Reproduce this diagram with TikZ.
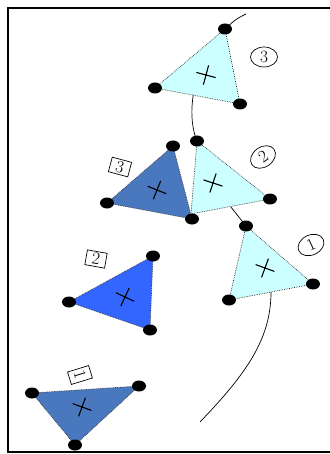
\documentclass[tikz,border=0pt]{standalone}
\usepackage{tikz}
\usetikzlibrary{calc,shapes.geometric,shapes.misc}
\definecolor{ice}{HTML}{CCFFFF}
\definecolor{steel}{HTML}{4A78BE}
\definecolor{brightblue}{HTML}{3366FF}
\definecolor{edgegray}{HTML}{333333}
\tikzset{
  dotnode/.style={ellipse,fill=black,inner sep=0pt,
                  minimum width=14pt,minimum height=11pt},
  tri/.style={draw=edgegray,densely dotted,line width=0.7pt},
  icetri/.style={tri,fill=ice},
  steeltri/.style={tri,fill=steel},
  bluetri/.style={tri,fill=brightblue},
  crossmark/.style={cross out,draw=black,line width=1.1pt,
                    inner sep=0pt,minimum size=13pt},
  circlabel/.style={ellipse,draw=black,line width=0.7pt,inner sep=1pt,
                    minimum width=27pt,minimum height=20pt,font=\LARGE},
  boxlabel/.style={draw=black,line width=0.7pt,inner sep=1.5pt,
                   minimum width=20pt,minimum height=15pt,font=\LARGE},
  track/.style={line width=0.7pt,black}
}
\begin{document}
\begin{tikzpicture}[x=1pt,y=-1pt]
  \useasboundingbox (0,0) rectangle (329,454);
  % frame, open to the right
  \draw[line width=2.2pt] (336,8) -- (8,8) -- (8,452) -- (336,452);

  % vertices
  \coordinate (c3a) at (225,29);  \coordinate (c3b) at (155,88);  \coordinate (c3c) at (240,104);
  \coordinate (c2a) at (197,141); \coordinate (c2b) at (270,199); \coordinate (c2c) at (191,214);
  \coordinate (d3a) at (173,146); \coordinate (d3b) at (107,203); \coordinate (d3c) at (192,219);
  \coordinate (c1a) at (246,226); \coordinate (c1b) at (313,284); \coordinate (c1c) at (229,300);
  \coordinate (d2a) at (153,256); \coordinate (d2b) at (69,302);  \coordinate (d2c) at (150,330);
  \coordinate (d1a) at (32,393);  \coordinate (d1b) at (139,386); \coordinate (d1c) at (75,445);

  % the track behind the triangles
  \coordinate (trackin) at (246,14);
  \coordinate (trackout) at (200,422);
  \draw[track] (trackin) .. controls (236,19) .. (c3a);
  \draw[track] ($(c3b)!0.45!(c3c)$) .. controls (190,115) and (193,132) .. (c2a);
  \draw[track] ($(c2c)!0.5!(c2b)$) -- (c1a);
  \draw[track] ($(c1c)!0.5!(c1b)$) .. controls (271,340) and (245,375) .. (trackout);

  % triangles
  \draw[icetri] (c3a) -- (c3b) -- (c3c) -- cycle;
  \draw[icetri] (c2a) -- (c2b) -- (c2c) -- cycle;
  \draw[steeltri] (d3a) -- (d3b) -- (d3c) -- cycle;
  \draw[icetri] (c1a) -- (c1b) -- (c1c) -- cycle;
  \draw[bluetri] (d2a) -- (d2b) -- (d2c) -- cycle;
  \draw[steeltri] (d1a) -- (d1b) -- (d1c) -- cycle;

  % corner dots
  \foreach \v in {c3a,c3b,c3c,c2a,c2b,d3a,d3b,d3c,c1a,c1b,c1c,d2a,d2b,d2c,d1a,d1b,d1c}
    \node[dotnode] (dot-\v) at (\v) {};

  % centre crosses
  \node[crossmark,rotate=30] (x-c3) at (206,75) {};
  \node[crossmark,rotate=27] (x-c2) at (213,183) {};
  \node[crossmark,rotate=23] (x-d3) at (157,190) {};
  \node[crossmark,rotate=25] (x-c1) at (265,268) {};
  \node[crossmark,rotate=20] (x-d2) at (125,297) {};
  \node[crossmark,rotate=25] (x-d1) at (82,407) {};

  % labels
  \node[circlabel] (l-c3) at (264,57) {3};
  \node[circlabel,rotate=35] (l-c2) at (263,157) {2};
  \node[circlabel,rotate=25] (l-c1) at (311,245) {1};
  \node[boxlabel,rotate=-15] (l-d3) at (120,167) {3};
  \node[boxlabel,rotate=-10] (l-d2) at (96,259) {2};
  \node[boxlabel,rotate=-73,minimum width=13pt,minimum height=22pt] (l-d1) at (80,375) {1};
\end{tikzpicture}
\end{document}
